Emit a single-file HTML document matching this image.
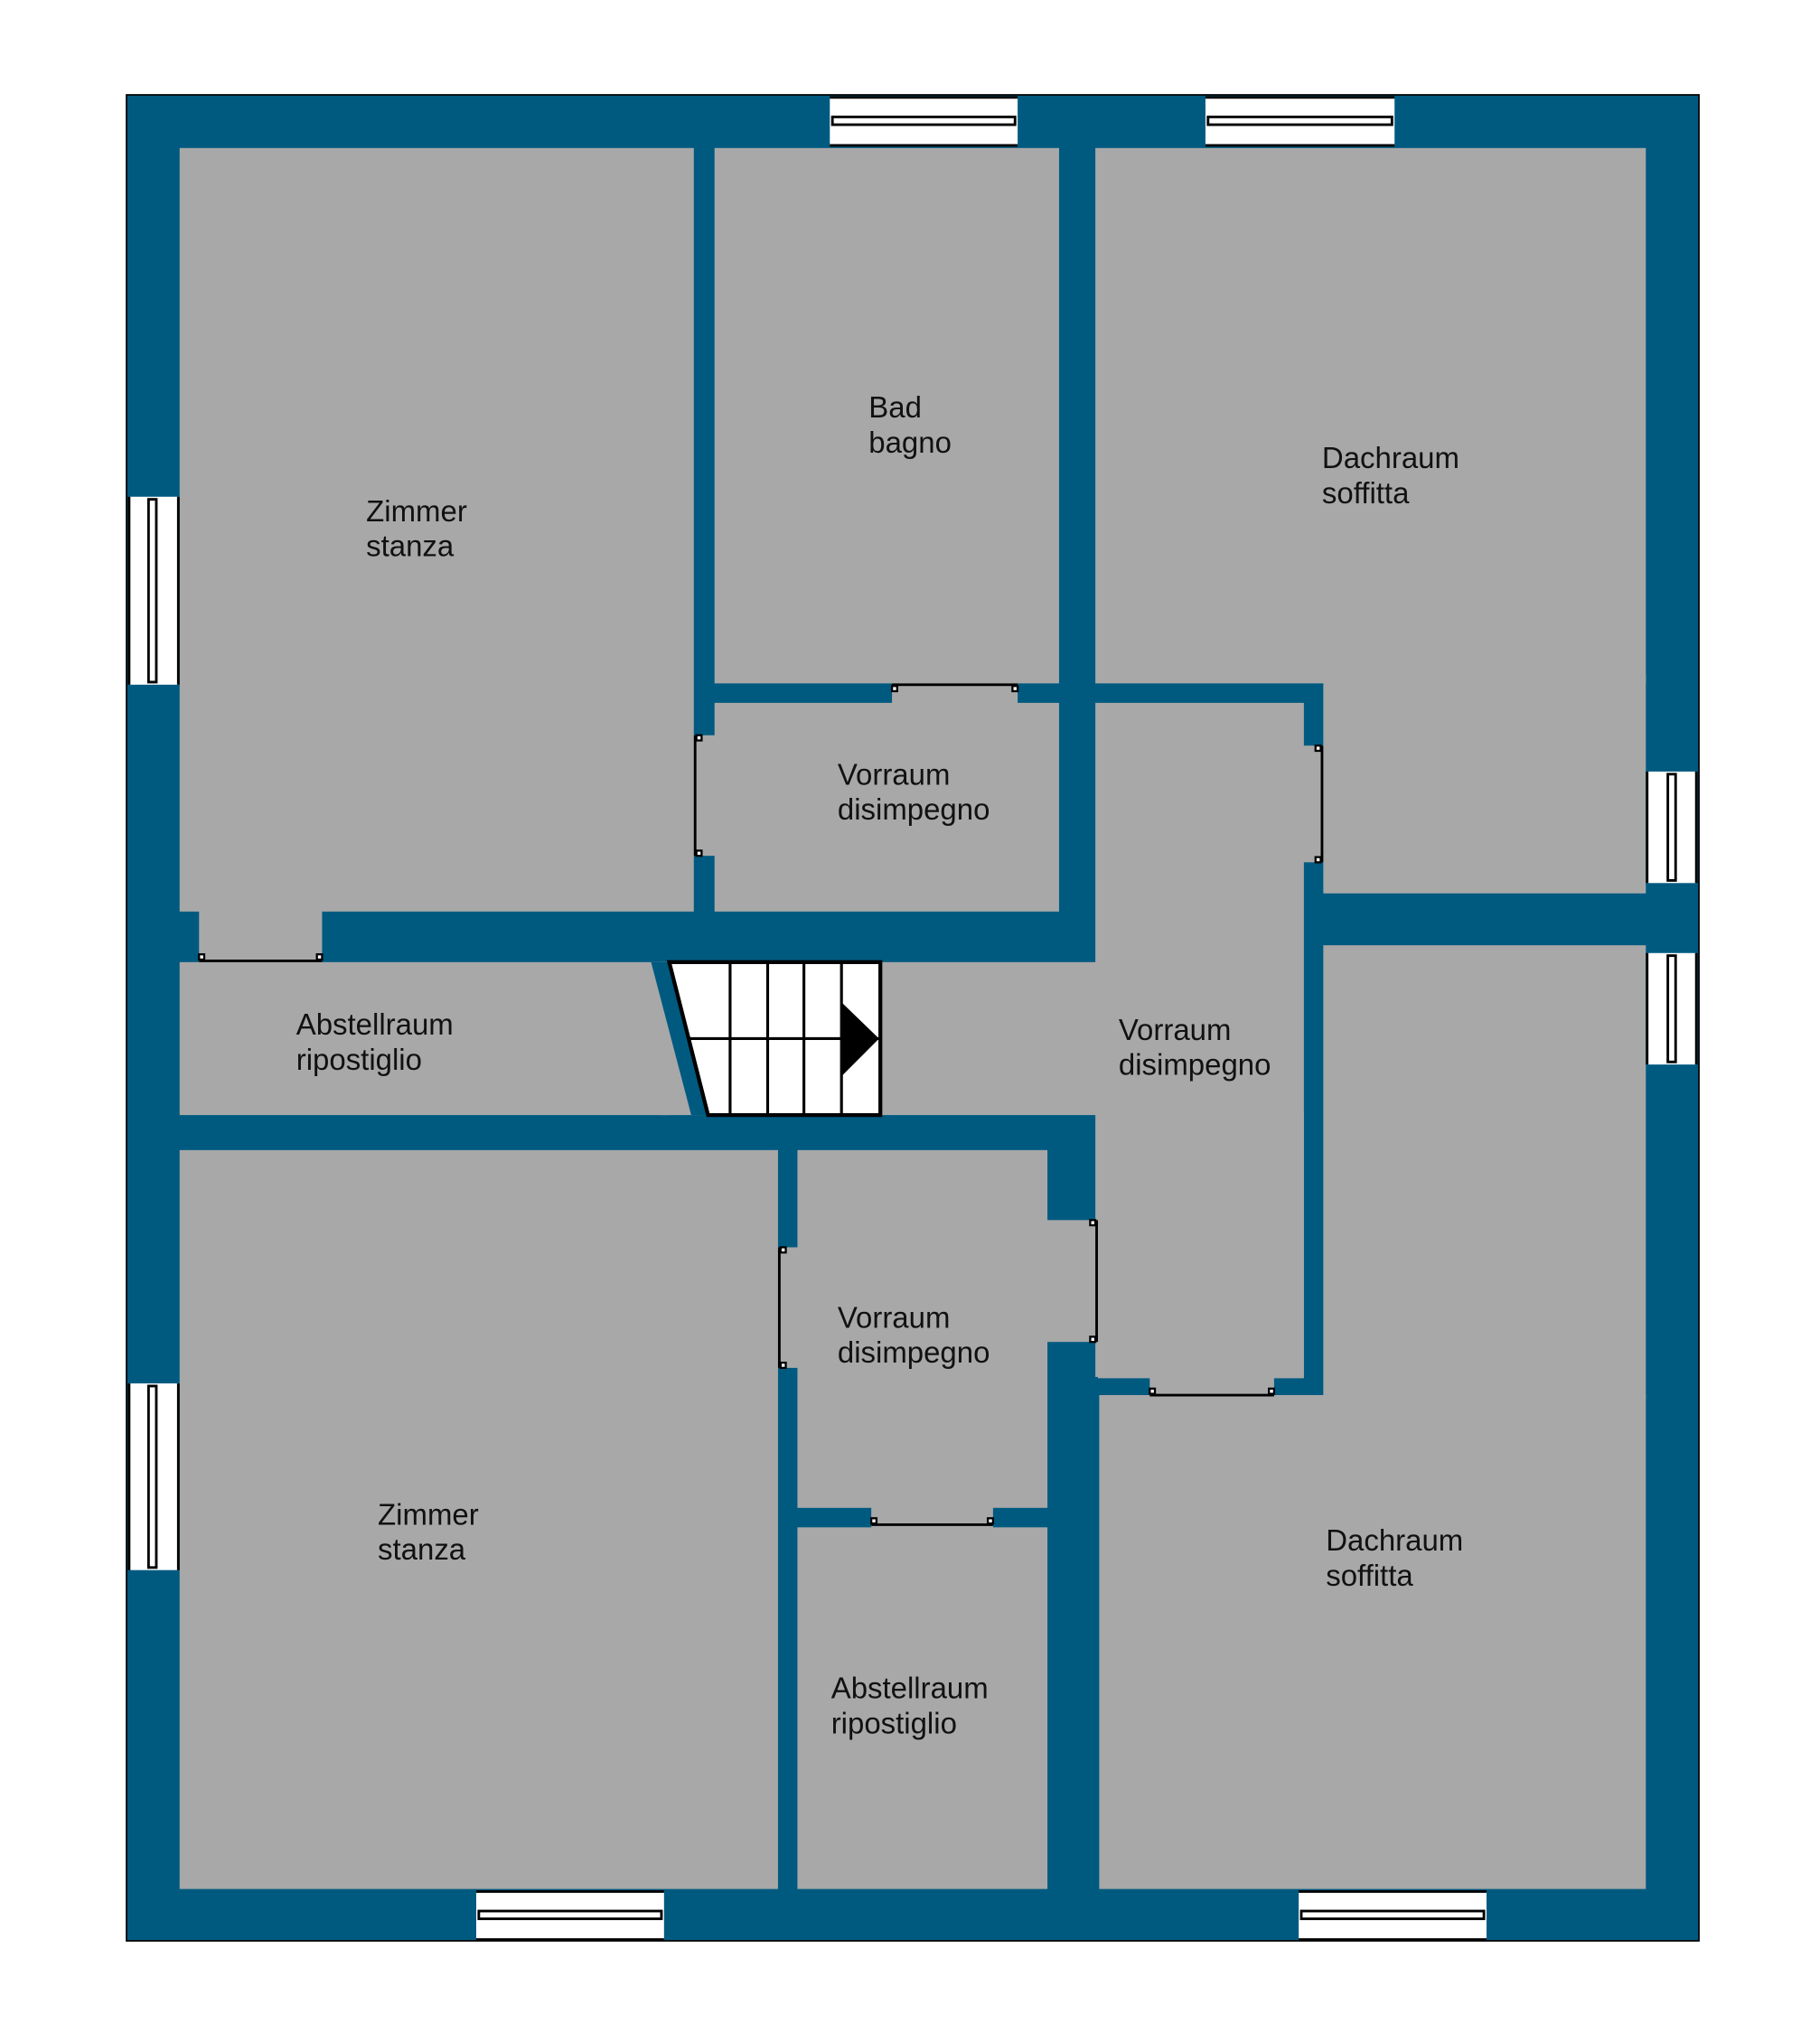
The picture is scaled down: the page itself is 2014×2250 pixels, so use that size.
<!DOCTYPE html>
<html><head><meta charset="utf-8"><style>
html,body{margin:0;padding:0;background:#fff}
svg{display:block}
text{font-family:"Liberation Sans",Arial,sans-serif;font-size:23px;fill:#111}
</style></head><body>
<svg width="2014" height="2250" viewBox="0 0 2014 2250" xmlns="http://www.w3.org/2000/svg">
<g transform="translate(140,105) scale(1.4333,1.4347) translate(-97,-73)">
<rect x="97" y="73" width="1214" height="1424" fill="#005a80" stroke="#000" stroke-width="1.2"/>
<g fill="#a8a8a8">
<rect x="138" y="114" width="397" height="589"/>
<rect x="551" y="114" width="266" height="413"/>
<rect x="845" y="114" width="425" height="413"/>
<rect x="1021" y="520" width="249" height="169"/>
<rect x="551" y="542" width="266" height="161"/>
<rect x="533" y="567" width="20" height="93"/>
<rect x="688" y="525" width="97" height="19"/>
<rect x="845" y="542" width="161" height="520"/>
<rect x="1004" y="575" width="19" height="90"/>
<rect x="887" y="1060" width="96" height="19"/>
<rect x="510" y="742" width="339" height="118"/>
<rect x="847" y="858" width="159" height="205"/>
<rect x="806" y="941" width="44" height="94"/>
<rect x="138" y="742" width="378" height="118"/>
<rect x="153" y="701" width="95" height="43"/>
<rect x="138" y="887" width="462" height="570"/>
<rect x="615" y="887" width="193" height="276"/>
<rect x="598" y="962" width="19" height="93"/>
<rect x="672" y="1161" width="94" height="19"/>
<rect x="615" y="1178" width="193" height="279"/>
<rect x="848" y="1076" width="422" height="381"/>
<rect x="1021" y="729" width="249" height="350"/>
</g>
<polygon points="502,742 516,742 548,860 533,860" fill="#005a80"/>
<polygon points="516,742 679,742 679,860 546,860" fill="#fff" stroke="#000" stroke-width="3" stroke-linejoin="miter"/>
<g stroke="#000" stroke-width="2.2">
<line x1="563" y1="742" x2="563" y2="860"/>
<line x1="592" y1="742" x2="592" y2="860"/>
<line x1="620" y1="742" x2="620" y2="860"/>
<line x1="649" y1="742" x2="649" y2="860"/>
<line x1="530" y1="801" x2="679" y2="801"/>
</g>
<polygon points="649,773 678,801 649,830" fill="#000"/>
<g fill="#fff" stroke="#000" stroke-width="2">
<rect x="640" y="75" width="145" height="37" stroke="none"/>
<line x1="640" y1="75" x2="785" y2="75"/><line x1="640" y1="112" x2="785" y2="112"/>
<rect x="642" y="90" width="141" height="6"/>
<rect x="930" y="75" width="146" height="37" stroke="none"/>
<line x1="930" y1="75" x2="1076" y2="75"/><line x1="930" y1="112" x2="1076" y2="112"/>
<rect x="932" y="90" width="142" height="6"/>
<rect x="367" y="1459" width="145" height="37" stroke="none"/>
<line x1="367" y1="1459" x2="512" y2="1459"/><line x1="367" y1="1496" x2="512" y2="1496"/>
<rect x="369" y="1474" width="141" height="6"/>
<rect x="1002" y="1459" width="145" height="37" stroke="none"/>
<line x1="1002" y1="1459" x2="1147" y2="1459"/><line x1="1002" y1="1496" x2="1147" y2="1496"/>
<rect x="1004" y="1474" width="141" height="6"/>
<rect x="99" y="383" width="38" height="145" stroke="none"/>
<line x1="99" y1="383" x2="99" y2="528"/><line x1="137" y1="383" x2="137" y2="528"/>
<rect x="114" y="385" width="6" height="141"/>
<rect x="99" y="1067" width="38" height="144" stroke="none"/>
<line x1="99" y1="1067" x2="99" y2="1211"/><line x1="137" y1="1067" x2="137" y2="1211"/>
<rect x="114" y="1069" width="6" height="140"/>
<rect x="1271" y="595" width="38" height="86" stroke="none"/>
<line x1="1271" y1="595" x2="1271" y2="681"/><line x1="1309" y1="595" x2="1309" y2="681"/>
<rect x="1287" y="597" width="6" height="82"/>
<rect x="1271" y="735" width="38" height="86" stroke="none"/>
<line x1="1271" y1="735" x2="1271" y2="821"/><line x1="1309" y1="735" x2="1309" y2="821"/>
<rect x="1287" y="737" width="6" height="82"/>
</g>
<g stroke="#000" stroke-width="2" fill="none">
<line x1="688" y1="528" x2="785" y2="528"/>
<line x1="536" y1="567" x2="536" y2="660"/>
<line x1="1020" y1="575" x2="1020" y2="665"/>
<line x1="153" y1="741" x2="248" y2="741"/>
<line x1="601" y1="962" x2="601" y2="1055"/>
<line x1="846" y1="941" x2="846" y2="1035"/>
<line x1="672" y1="1176" x2="766" y2="1176"/>
<line x1="887" y1="1076" x2="983" y2="1076"/>
</g>
<g fill="#fff" stroke="#000" stroke-width="1.6">
<rect x="688" y="529" width="4" height="4"/><rect x="781" y="529" width="4" height="4"/>
<rect x="537" y="567" width="4" height="4"/><rect x="537" y="656" width="4" height="4"/>
<rect x="1015" y="575" width="4" height="4"/><rect x="1015" y="661" width="4" height="4"/>
<rect x="153" y="736" width="4" height="4"/><rect x="244" y="736" width="4" height="4"/>
<rect x="602" y="962" width="4" height="4"/><rect x="602" y="1051" width="4" height="4"/>
<rect x="841" y="941" width="4" height="4"/><rect x="841" y="1031" width="4" height="4"/>
<rect x="672" y="1171" width="4" height="4"/><rect x="762" y="1171" width="4" height="4"/>
<rect x="887" y="1071" width="4" height="4"/><rect x="979" y="1071" width="4" height="4"/>
</g>
<text x="282" y="402">Zimmer</text><text x="282" y="429">stanza</text>
<text x="670" y="322">Bad</text><text x="670" y="349">bagno</text>
<text x="1020" y="361">Dachraum</text><text x="1020" y="388">soffitta</text>
<text x="646" y="605">Vorraum</text><text x="646" y="632">disimpegno</text>
<text x="228" y="798">Abstellraum</text><text x="228" y="825">ripostiglio</text>
<text x="863" y="802">Vorraum</text><text x="863" y="829">disimpegno</text>
<text x="646" y="1024">Vorraum</text><text x="646" y="1051">disimpegno</text>
<text x="291" y="1176">Zimmer</text><text x="291" y="1203">stanza</text>
<text x="1023" y="1196">Dachraum</text><text x="1023" y="1223">soffitta</text>
<text x="641" y="1310">Abstellraum</text><text x="641" y="1337">ripostiglio</text>
</g>
</svg>
</body></html>
